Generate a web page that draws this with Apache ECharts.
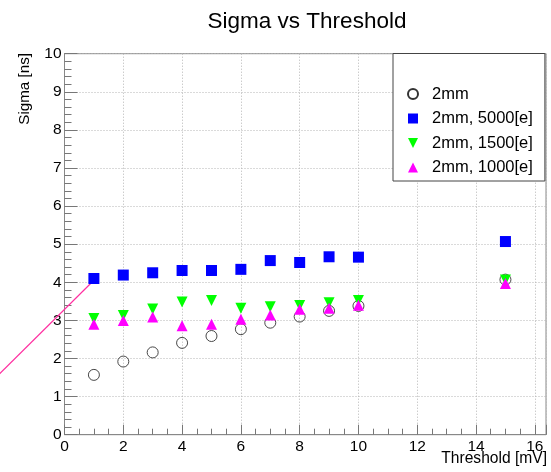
<!DOCTYPE html>
<html>
<head>
<meta charset="utf-8">
<script src="https://cdn.jsdelivr.net/npm/echarts@6/dist/echarts.min.js"></script>
<style>
html,body{margin:0;padding:0;background:#fff;}
#chart{width:551px;height:472px;}
</style>
</head>
<body>
<div id="chart"></div>
<script>
// Data
const thresholds = [1, 2, 3, 4, 5, 6, 7, 8, 9, 10, 15];
const sigma2mm   = [1.57, 1.92, 2.16, 2.41, 2.59, 2.77, 2.94, 3.10, 3.25, 3.38, 4.07];
const sigma5000  = [4.10, 4.19, 4.25, 4.31, 4.31, 4.34, 4.57, 4.52, 4.67, 4.66, 5.07];
const sigma1500  = [3.05, 3.13, 3.30, 3.48, 3.52, 3.32, 3.36, 3.39, 3.46, 3.52, 4.06];
const sigma1000  = [2.90, 3.00, 3.09, 2.86, 2.90, 3.03, 3.14, 3.29, 3.32, 3.40, 3.97];
const seriesNames = ['2mm', '2mm, 5000[e]', '2mm, 1500[e]', '2mm, 1000[e]'];
const lineX = [-2.4, 1.06];
const lineY = [1.45, 4.10];
const xTicks = [0, 2, 4, 6, 8, 10, 12, 14, 16];
const yTicks = [0, 1, 2, 3, 4, 5, 6, 7, 8, 9, 10];

const pairs = (xs, ys) => xs.map((x, i) => [x, ys[i]]);
const FONT = '"Liberation Sans", Arial, Helvetica, sans-serif';
const DOWN_TRI = 'path://M0,0 L10,0 L5,10 Z';

const chart = echarts.init(document.getElementById('chart'), null, {renderer: 'canvas'});
chart.setOption({
  animation: false,
  backgroundColor: '#fff',
  textStyle: {fontFamily: FONT},
  grid: {
    left: 64.5, right: 5, top: 53.7, bottom: 37.3,
    show: true, borderColor: '#888', borderWidth: 1, backgroundColor: 'transparent'
  },
  xAxis: {
    type: 'value', min: xTicks[0], max: 16.38, interval: xTicks[1] - xTicks[0],
    axisLine: {show: true, onZero: false, lineStyle: {color: '#888', width: 1}},
    axisTick: {show: true, inside: true, length: 10, lineStyle: {color: '#777'}},
    minorTick: {show: true, splitNumber: 4, length: 6, lineStyle: {color: '#777'}},
    splitLine: {show: true, lineStyle: {color: '#b5b5b5', type: [1, 2], width: 1}},
    axisLabel: {color: '#000', fontSize: 15.5, fontFamily: FONT, margin: 4,
      formatter: v => (xTicks.indexOf(v) >= 0 ? String(v) : '')}
  },
  yAxis: {
    type: 'value', min: yTicks[0], max: yTicks[yTicks.length - 1], interval: 1,
    axisLine: {show: true, onZero: false, lineStyle: {color: '#888', width: 1}},
    axisTick: {show: true, inside: true, length: 13, lineStyle: {color: '#777'}},
    minorTick: {show: true, splitNumber: 5, length: 7, lineStyle: {color: '#777'}},
    splitLine: {show: true, lineStyle: {color: '#b5b5b5', type: [1, 2], width: 1}},
    axisLabel: {color: '#000', fontSize: 15.5, fontFamily: FONT, margin: 3}
  },
  legend: {
    data: [
      {name: seriesNames[0]},
      {name: seriesNames[1]},
      {name: seriesNames[2], icon: DOWN_TRI},
      {name: seriesNames[3]}
    ],
    orient: 'vertical',
    left: 393, top: 53.5,
    backgroundColor: '#fff',
    borderColor: '#444', borderWidth: 1, borderRadius: 0,
    padding: [32, 12, 5, 14],
    itemWidth: 10, itemHeight: 10, itemGap: 7.5,
    symbolKeepAspect: true,
    textStyle: {color: '#000', fontSize: 16.5, fontFamily: FONT, lineHeight: 15, padding: [0, 0, 0, 9]}
  },
  graphic: [
    {type: 'text', x: 307, y: 22, z: 100,
      style: {text: 'Sigma vs Threshold', fill: '#000', font: '22.5px ' + FONT, align: 'center', verticalAlign: 'middle'}},
    {type: 'text', x: 547, y: 459, z: 100,
      style: {text: 'Threshold [mV]', fill: '#000', font: '15.6px ' + FONT, align: 'right', verticalAlign: 'middle'}},
    {type: 'text', x: 25, y: 53, rotation: Math.PI / 2, z: 100,
      style: {text: 'Sigma [ns]', fill: '#000', font: '15.2px ' + FONT, align: 'right', verticalAlign: 'middle'}}
  ],
  series: [
    {name: '__line', type: 'custom', clip: false, silent: true, z: 1,
      data: [[lineX[0], lineY[0], lineX[1], lineY[1]]],
      renderItem: function (params, api) {
        const p0 = api.coord([api.value(0), api.value(1)]);
        const p1 = api.coord([api.value(2), api.value(3)]);
        return {type: 'line', shape: {x1: p0[0], y1: p0[1], x2: p1[0], y2: p1[1]},
          style: {stroke: '#ff2fa0', lineWidth: 1.2}};
      },
      encode: {x: [0, 2], y: [1, 3]}
    },
    {name: seriesNames[0], type: 'scatter', data: pairs(thresholds, sigma2mm),
      symbol: 'circle', symbolSize: 11,
      itemStyle: {color: 'rgba(255,255,255,0)', borderColor: '#333', borderWidth: 0.9, opacity: 1}, z: 2},
    {name: seriesNames[1], type: 'scatter', data: pairs(thresholds, sigma5000),
      symbol: 'rect', symbolSize: 11, itemStyle: {color: '#0000ff', opacity: 1}, z: 3},
    {name: seriesNames[2], type: 'scatter', data: pairs(thresholds, sigma1500),
      symbol: 'triangle', symbolRotate: 180, symbolSize: 11, itemStyle: {color: '#00ff00', opacity: 1}, z: 4},
    {name: seriesNames[3], type: 'scatter', data: pairs(thresholds, sigma1000),
      symbol: 'triangle', symbolSize: 11, itemStyle: {color: '#ff00ff', opacity: 1}, z: 5}
  ]
});
</script>
</body>
</html>
